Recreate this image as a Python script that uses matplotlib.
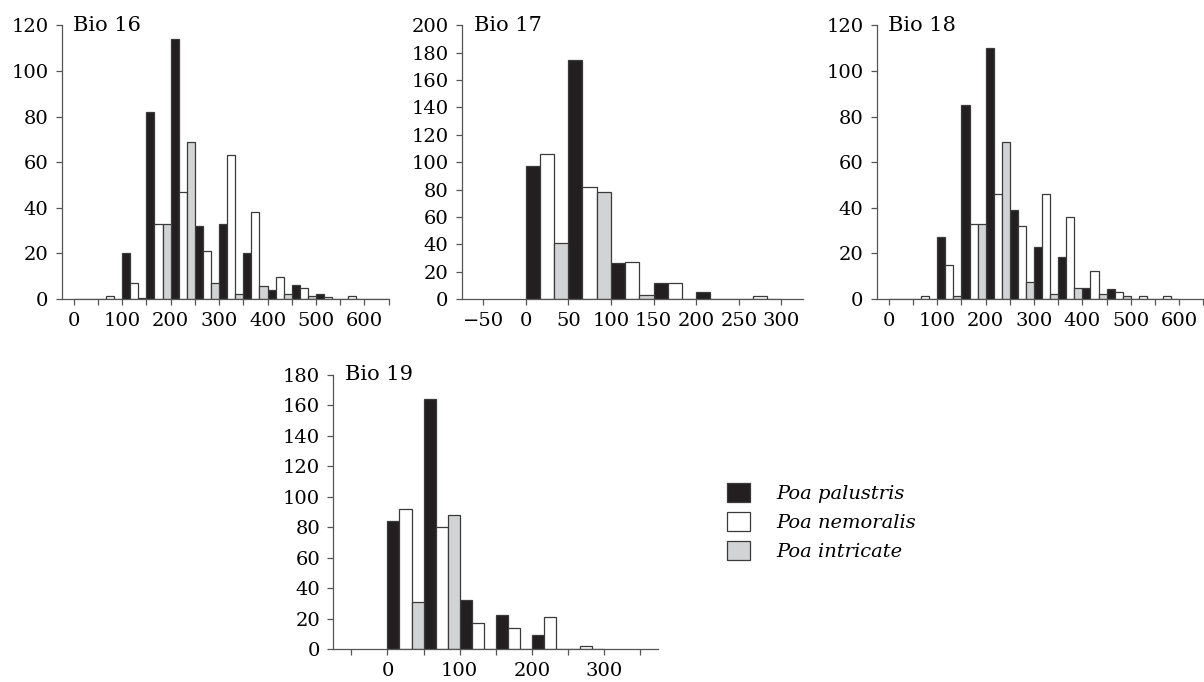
import numpy as np
import matplotlib
matplotlib.use("Agg")
import matplotlib.pyplot as plt
from matplotlib.patches import Patch

plt.rcParams['font.family'] = ['DejaVu Serif']

species = ["Poa palustris", "Poa nemoralis", "Poa intricate"]
fills = ["#231f20", "#ffffff", "#d1d3d4"]

# Bio 16: bins of 50, starting at 0
bio16_bins = [0, 50, 100, 150, 200, 250, 300, 350, 400, 450, 500, 550, 600]
bio16_pal = [0, 0, 20, 82, 114, 32, 33, 20, 4, 6, 2, 0, 0]
bio16_nem = [0, 1.5, 7, 33, 47, 21, 63, 38, 9.5, 5, 1, 1.3, 0]
bio16_int = [0, 0, 0.3, 33, 69, 7, 2, 5.5, 2, 1.2, 0, 0, 0]

# Bio 17
bio17_bins = [0, 50, 100, 150, 200, 250]
bio17_pal = [97, 175, 26, 11.5, 5, 0]
bio17_nem = [106, 82, 27, 11.5, 0, 2]
bio17_int = [41, 78, 3, 0, 0, 0]

# Bio 18
bio18_bins = [0, 50, 100, 150, 200, 250, 300, 350, 400, 450, 500, 550]
bio18_pal = [0, 0, 27, 85, 110, 39, 23, 18.5, 5, 4.5, 0, 0]
bio18_nem = [0, 1.3, 15, 33, 46, 32, 46, 36, 12.4, 3, 1.2, 1.2]
bio18_int = [0, 0, 1.3, 33, 69, 7.3, 2, 5, 2, 1.2, 0, 0]

# Bio 19
bio19_bins = [0, 50, 100, 150, 200, 250]
bio19_pal = [84, 164, 32, 22, 9, 0]
bio19_nem = [92, 80, 17, 14, 21, 1.8]
bio19_int = [31, 88, 0, 0, 0, 0]

panels = [
    ("Bio 16", bio16_bins, [bio16_pal, bio16_nem, bio16_int], (-25, 650), (0, 120),
     np.arange(0, 601, 100), np.arange(0, 651, 50)),
    ("Bio 17", bio17_bins, [bio17_pal, bio17_nem, bio17_int], (-75, 325), (0, 200),
     np.arange(-50, 301, 50), np.arange(-50, 301, 50)),
    ("Bio 18", bio18_bins, [bio18_pal, bio18_nem, bio18_int], (-25, 650), (0, 120),
     np.arange(0, 601, 100), np.arange(0, 651, 50)),
    ("Bio 19", bio19_bins, [bio19_pal, bio19_nem, bio19_int], (-75, 375), (0, 180),
     np.arange(0, 301, 100), np.arange(-50, 351, 50)),
]

rects = [
    [0.0512, 0.5616, 0.2716, 0.4013],
    [0.3835, 0.5616, 0.2832, 0.4013],
    [0.7282, 0.5616, 0.2713, 0.4013],
    [0.2768, 0.0484, 0.2700, 0.4018],
]

fig = plt.figure(figsize=(12.04, 6.82), dpi=100)
edge = "#3a3a3a"
bw = 50 / 3

for (title, bins, series, xlim, ylim, major, minor), rect in zip(panels, rects):
    ax = fig.add_axes(rect)
    bins = np.array(bins, dtype=float)
    for i, vals in enumerate(series):
        ax.bar(bins + i * bw, vals, width=bw, align='edge', color=fills[i],
               edgecolor=edge, linewidth=0.9, zorder=2)
    ax.set_xlim(*xlim)
    ax.set_ylim(*ylim)
    ax.set_yticks(np.arange(ylim[0], ylim[1] + 1, 20))
    ax.set_xticks(major)
    ax.set_xticks(minor, minor=True)
    ax.set_xticklabels([str(v).replace("-", "\u2212") for v in major])
    ax.spines['top'].set_visible(False)
    ax.spines['right'].set_visible(False)
    for s in ['left', 'bottom']:
        ax.spines[s].set_color("#555555")
        ax.spines[s].set_linewidth(0.9)
    ax.tick_params(which='both', direction='out', length=4.5, width=0.9,
                   color="#555555", labelsize=14, pad=5)
    ax.text(0.035, 1.0, title, transform=ax.transAxes, ha='left', va='center',
            fontsize=15)

handles = [Patch(facecolor=c, edgecolor=edge, linewidth=0.9) for c in fills]
leg = fig.legend(handles, species, loc='upper left', bbox_to_anchor=(0.604, 0.292),
                 frameon=False, borderpad=0, borderaxespad=0,
                 handlelength=1.15, handleheight=1.15, handletextpad=1.35,
                 labelspacing=0.45, prop={'family': 'DejaVu Serif', 'style': 'italic', 'size': 14})

fig.savefig("out.png", dpi=100)
